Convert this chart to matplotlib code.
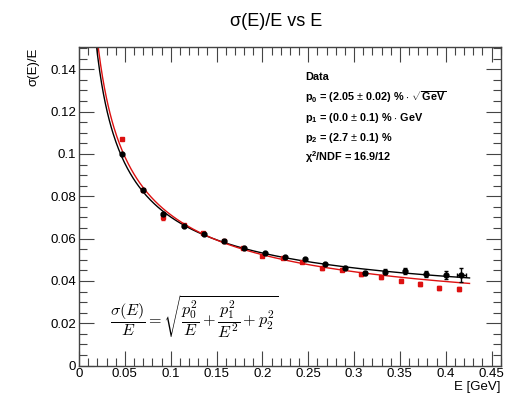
import numpy as np
import matplotlib
matplotlib.use("Agg")
import matplotlib.pyplot as plt
from matplotlib.ticker import MultipleLocator

plt.rcParams["font.family"] = ["Liberation Sans", "DejaVu Sans"]
plt.rcParams["mathtext.fontset"] = "custom"
plt.rcParams["mathtext.rm"] = "Liberation Sans"
plt.rcParams["mathtext.bf"] = "Liberation Sans:bold"
plt.rcParams["mathtext.it"] = "Liberation Sans:italic"

# data
energy_black = [0.0466, 0.0695, 0.0919, 0.1145, 0.1366, 0.158, 0.180, 0.203, 0.2246,
                0.2465, 0.268, 0.290, 0.312, 0.334, 0.356, 0.378, 0.400, 0.417]
res_black = [0.0999, 0.0828, 0.0715, 0.0661, 0.0620, 0.0589, 0.0557, 0.0530, 0.0514,
             0.0503, 0.0480, 0.0462, 0.0439, 0.0444, 0.0447, 0.0432, 0.0428, 0.0428]
err_black = [0.0006, 0.0005, 0.0005, 0.0004, 0.0004, 0.0004, 0.0004, 0.0004, 0.0005,
             0.0005, 0.0006, 0.0007, 0.0009, 0.0011, 0.0014, 0.0015, 0.0019, 0.0033]
xerr_black = [0, 0, 0, 0, 0, 0, 0, 0, 0, 0, 0, 0, 0, 0, 0, 0, 0, 0.0047]

energy_red = [0.0466, 0.0695, 0.092, 0.114, 0.1356, 0.158, 0.179, 0.200, 0.222,
              0.243, 0.265, 0.2865, 0.308, 0.329, 0.351, 0.372, 0.393, 0.414]
res_red = [0.1070, 0.0828, 0.0700, 0.0664, 0.0627, 0.0589, 0.0557, 0.0519, 0.0507,
           0.0488, 0.0460, 0.0453, 0.0431, 0.0417, 0.0401, 0.0385, 0.0365, 0.0362]
err_red = [0.0006, 0.0005, 0.0012, 0.0005, 0.0005, 0.0005, 0.0005, 0.0005, 0.0005,
           0.0005, 0.0006, 0.0006, 0.0007, 0.0007, 0.0008, 0.0008, 0.0009, 0.0010]

# fit parameters (p0, p2) for the two curves
fit_black = (0.0205, 0.027)
fit_red = (0.0216, 0.0203)

stats_lines = [
    r"Data",
    r"$\mathbf{p_0}$ = (2.05 $\pm$ 0.02) % $\cdot$ $\mathbf{\sqrt{GeV}}$",
    r"$\mathbf{p_1}$ = (0.0 $\pm$ 0.1) % $\cdot$ GeV",
    r"$\mathbf{p_2}$ = (2.7 $\pm$ 0.1) %",
    r"$\mathbf{\chi^2}$/NDF = 16.9/12",
]
stats_y = [77.3, 96.7, 118, 138, 156.7]

W, H = 514, 393
fig = plt.figure(figsize=(W / 100, H / 100), dpi=100)
ax = fig.add_axes([79 / W, 1 - 365.6 / H, (500.7 - 79) / W, (365.6 - 47.3) / H])


def resolution(e, p0, p2):
    return np.sqrt(p0 ** 2 / e + p2 ** 2)


e_fit = np.linspace(0.01, 0.426, 400)
ax.plot(e_fit, resolution(e_fit, *fit_black), color="black", lw=1.0, zorder=2)
ax.plot(e_fit, resolution(e_fit, *fit_red), color="#dd1111", lw=1.0, zorder=2)

ax.errorbar(energy_red, res_red, yerr=err_red, fmt="s", color="#dd1111",
            ms=3.0, elinewidth=1.0, capsize=1.5, zorder=3)
ax.errorbar(energy_black, res_black, yerr=err_black, xerr=xerr_black, fmt="o",
            color="black", ms=3.5, elinewidth=1.0, capsize=1.5, zorder=4)

ax.set_xlim(0, 0.46)
ax.set_ylim(0, 0.1504)
ax.xaxis.set_minor_locator(MultipleLocator(0.01))
ax.yaxis.set_minor_locator(MultipleLocator(0.005))
ax.set_xticks(np.arange(0, 0.46, 0.05))
ax.set_xticklabels(["0", "0.05", "0.1", "0.15", "0.2", "0.25", "0.3", "0.35", "0.4", "0.45"])
ax.set_yticks(np.arange(0, 0.15, 0.02))
ax.set_yticklabels(["0", "0.02", "0.04", "0.06", "0.08", "0.1", "0.12", "0.14"])
ax.tick_params(which="both", direction="in", top=True, right=True, labelsize=9.5,
               color="#444444", width=0.8)
ax.tick_params(which="major", length=11, pad=2)
ax.tick_params(which="minor", length=5.5)
for sp in ax.spines.values():
    sp.set_color("#444444")
    sp.set_linewidth(1.0)

fig.text(276 / W, 1 - 21.7 / H, "σ(E)/E vs E", ha="center", va="center", fontsize=13)
fig.text(33 / W, 1 - 48 / H, "σ(E)/E", ha="center", va="top", rotation=90, fontsize=9.5)
fig.text(500 / W, 1 - 387 / H, "E [GeV]", ha="right", va="center", fontsize=9.5)

for line, yy in zip(stats_lines, stats_y):
    fig.text(305 / W, 1 - yy / H, line, ha="left", va="center", fontsize=7.8,
             fontweight="bold")

fig.text(110 / W, 1 - 317 / H,
         r"$\dfrac{\sigma(E)}{E} = \sqrt{\dfrac{p_0^2}{E} + \dfrac{p_1^2}{E^2} + p_2^2}$",
         ha="left", va="center", fontsize=11.6, math_fontfamily="cm")

fig.savefig("out.png", dpi=100)
